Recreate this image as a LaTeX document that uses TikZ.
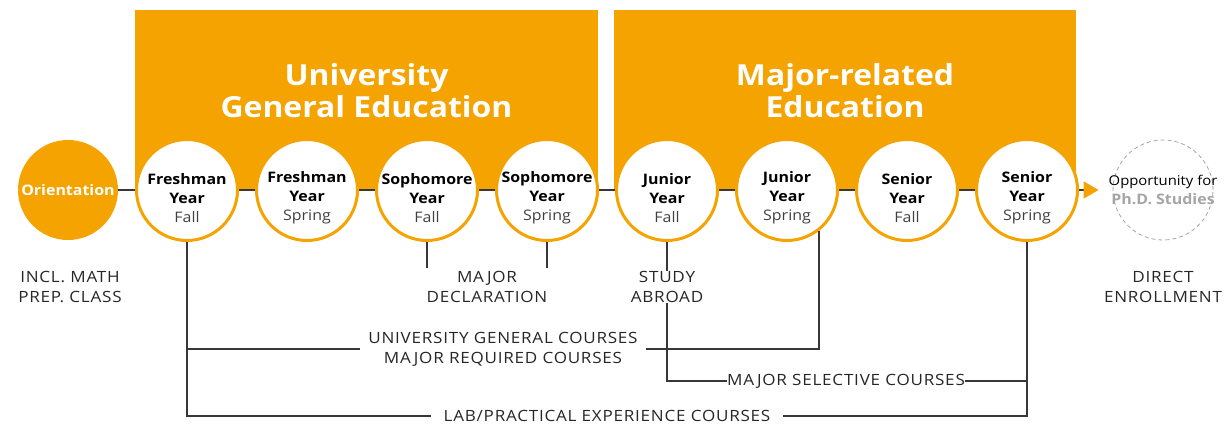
\documentclass[tikz,border=0pt]{standalone}
\usepackage{fontspec}
\setmainfont{Open Sans}[FakeStretch=1.1]
\newfontfamily\labelfont{Open Sans}[FakeStretch=1.1, LetterSpace=5]
\usetikzlibrary{positioning, arrows.meta}

\definecolor{uniorange}{RGB}{244,163,0}
\definecolor{linegray}{RGB}{55,55,55}
\definecolor{phdgray}{RGB}{165,165,165}

\begin{document}
\begin{tikzpicture}
[
    x=1pt, y=-1pt,
    % The strategy is to create nodes with names: S-column
    % Semester nodes are named S-0 ... S-7
    % Course labels are named UG, SEL and LAB
]

%=================================== Start ===================================
\tikzstyle{block} = [fill=uniorange, inner sep=0pt, outer sep=0pt]
\tikzstyle{title} = [text=white, align=center, font=\fontsize{29}{32}\selectfont\bfseries]
\tikzstyle{sem}   = [circle, draw=uniorange, line width=3pt, fill=white, minimum size=101pt,
                     inner sep=0pt]
\tikzstyle{semtxt}= [align=center, inner sep=0pt, font=\fontsize{14.5}{19}\selectfont]
\tikzstyle{conn}  = [draw=linegray, line width=1.4pt]
\tikzstyle{lbl}   = [align=center, text=black!85, inner sep=0pt,
                     font=\labelfont\fontsize{15.5}{20}\selectfont]

\useasboundingbox (0,0) rectangle (1225,428);

{
    % Education blocks
    \node[block, minimum width=463pt, minimum height=180pt] (B-1) at (366.5,100) {};
    \node[block, minimum width=462pt, minimum height=180pt] (B-2) at (845,100) {};
    \node[title] (T-1) at (366.5,91) {University\\General Education};
    \node[title] (T-2) at (845,91) {Major-related\\Education};

    % Orientation and Ph.D. nodes
    \node[circle, fill=uniorange, minimum size=100pt, inner sep=0pt, text=white,
          font=\fontsize{14.5}{19}\selectfont\bfseries] (O) at (68,190) {Orientation};
    \node[circle, draw=phdgray, dash pattern=on 4pt off 3pt, line width=0.8pt,
          minimum size=100pt, inner sep=0pt] (P) at (1163,190) {};
    \node[align=center, inner sep=0pt, font=\fontsize{13.5}{19}\selectfont] (PT) at (P)
          {Opportunity for\\\textcolor{phdgray}{\fontsize{14.5}{19}\selectfont\bfseries Ph.D. Studies}};

    % Timeline behind the semesters
    \path[conn] (O.east) -- (1027,190);
    \path[conn, -{Triangle[color=uniorange, length=15pt, width=17pt]}, shorten >=14pt]
        (1027,190) -- (P.west);

    % Draw semesters
    \foreach \i / \yr / \term in {0/Freshman/Fall, 1/Freshman/Spring,
                                  2/Sophomore/Fall, 3/Sophomore/Spring,
                                  4/Junior/Fall, 5/Junior/Spring,
                                  6/Senior/Fall, 7/Senior/Spring}
    {
        \node[sem] (S-\i) at (187+120*\i,190) {};
        \node[semtxt] (L-\i) at ([yshift=-8pt]S-\i.center)
              {\bfseries\yr\\\bfseries Year\\\textcolor{black!75}{\term}};
    }

    % Labels below
    \node[lbl] (INC) at (70,287)   {INCL. MATH\\PREP. CLASS};
    \node[lbl] (DEC) at (487,287)  {MAJOR\\DECLARATION};
    \node[lbl] (STU) at (667,287)  {STUDY\\ABROAD};
    \node[lbl] (DIR) at (1163,287) {DIRECT\\ENROLLMENT};
    \node[lbl, inner xsep=8pt] (UG) at (503,349)
          {UNIVERSITY GENERAL COURSES\\MAJOR REQUIRED COURSES};
    \node[lbl] (SEL) at (846,381) {MAJOR SELECTIVE COURSES};
    \node[lbl, inner xsep=12pt] (LAB) at (607,416) {LAB/PRACTICAL EXPERIENCE COURSES};

    \coordinate (D-2) at (427,268);
    \coordinate (D-3) at (547,268);

    % Connect nodes
    \path[conn] (S-2.south) -- (D-2);
    \path[conn] (S-3.south) -- (D-3);
    \path[conn] (S-4.south) -- (S-4 |- STU.north);
    \path[conn] (S-4 |- STU.south) |- (SEL.west);
    \path[conn] (SEL.east) -- (S-7 |- SEL);
    \path[conn] (S-5.-52) |- (UG.east);
    \path[conn] (S-0 |- UG) -- (UG.west);
    \path[conn] (S-0.south) |- (LAB.west);
    \path[conn] (S-7.south) |- (LAB.east);
}
%==================================== END ====================================

\end{tikzpicture}
\end{document}
